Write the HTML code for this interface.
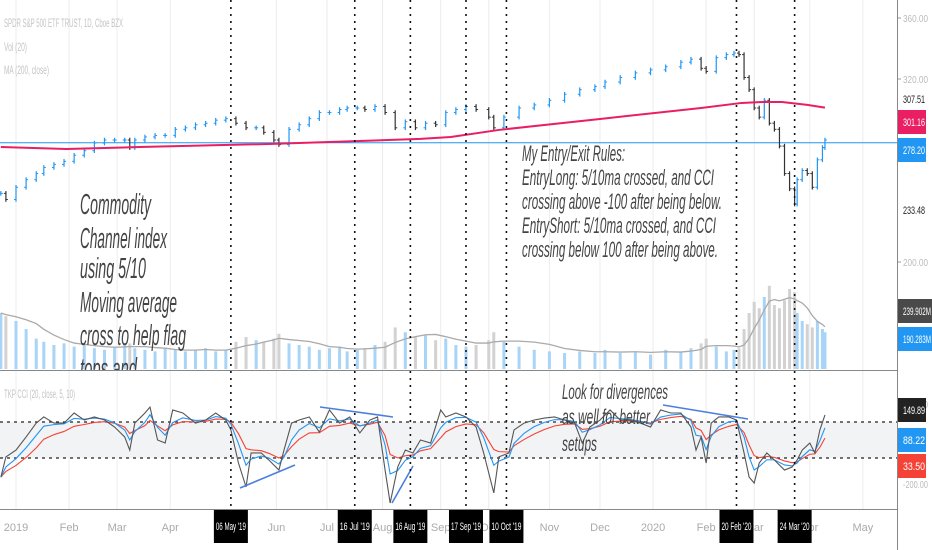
<!DOCTYPE html>
<html><head><meta charset="utf-8"><style>
html,body{margin:0;padding:0;background:#fff;}
svg{display:block;font-family:"Liberation Sans Narrow","Liberation Sans",sans-serif;}
</style></head><body>
<svg id="chart" width="932" height="550" viewBox="0 0 932 550" xmlns="http://www.w3.org/2000/svg">
<rect x="0" y="0" width="932" height="550" fill="#fff"/>
<g id="grid"></g>
<g id="vol"></g>
<g id="price"></g>
<g id="cci"></g>
<g id="marks"></g>
<g id="axes"></g>
</svg>
<script>
const NS="http://www.w3.org/2000/svg";
// ---- data ----
const priceDays=[-6,-4,0,4,8,11,15,19,23,27,31,35,39,43,45,47,51,55,59,63,67,71,75,79,83,87,91,95,98,102,104,108,112,116,120,124,128,131,135,138,142,146,150,154,158,162,166,170,174,178,182,187,189,193,199,205,211,217,223,229,233,239,245,251,257,263,267,271,273,277,281,284,286,288,290,292,294,296,298,300,302,304,306,308,309,311,313,315,317,319,320];
const closes=[245,241,249,254,258,262,264,266,270,273,278,280,280,280,275,280,282,283,283,287,288,290,291,293,294,291,288,288,285,280,277,287,290,294,298,298,300,301,301,300,302,298,288,292,288,291,290,298,300,302,300,295,288,295,301,303,306,310,313,315,318,321,324,326,328,331,333,327,325,334,336,337,336,321,313,301,295,306,291,287,276,258,248,238,254,260,258,249,267,275,280];
const volumes=[350,330,300,250,190,170,150,160,140,150,130,120,140,150,160,130,120,110,130,120,110,120,130,110,120,170,200,180,170,190,220,160,150,140,120,130,140,110,120,130,150,170,260,230,200,210,180,190,150,140,150,180,230,170,140,120,110,100,110,100,120,100,110,90,120,110,130,160,190,140,110,120,130,250,350,420,380,450,520,400,380,430,500,480,350,300,280,260,300,250,230];
const maDays=[-6,20,49,100,160,172,191,231,271,287,295,303,313,320];
const maValues=[275.4,274.1,275.4,277.4,280.7,282,286.6,293.8,301,304.3,304.9,304.9,303,301.2];
const cciDays=[-6,-4,0,4,8,11,15,19,23,27,31,35,39,43,45,47,51,53,56,59,62,66,71,75,79,83,85,88,91,93,97,100,104,106,109,112,116,120,124,128,132,136,140,143,146,148,151,154,157,160,164,168,170,174,178,182,185,189,191,195,197,201,205,209,213,217,221,224,227,231,235,239,243,247,251,255,259,263,267,269,271,273,275,278,282,285,288,290,292,294,297,300,304,307,309,311,314,316,318,320];
const cciValues=[-206,-94,-56,17,94,128,94,94,150,111,128,111,72,17,-56,94,150,183,0,-17,167,150,94,111,150,111,56,-128,-261,-72,-72,-111,-167,-56,94,111,128,44,167,94,128,39,111,128,-167,-350,-150,-56,-72,0,-17,167,128,150,128,72,-72,-294,-94,-72,56,94,111,122,128,111,94,-17,72,111,167,111,111,94,72,167,150,150,72,-56,17,-128,94,128,128,111,-72,-206,-239,-128,-72,-111,-167,-150,-111,-56,-17,-72,56,139];
const markerLabels=["06 May '19","16 Jul '19","16 Aug '19","17 Sep '19","10 Oct '19","20 Feb '20","24 Mar '20"];
const markerDays=[85,134,156,178,194,285,308];
const monthLabels=["2019","Feb","Mar","Apr","Jun","Jul","Aug","Sep","Oct","Nov","Dec","2020","Feb","Mar","Apr","May"];
const monthDays=[0,21,40,61,103,123,145,168,187,211,231,252,273,292,314,335];
const priceTicks=[360,320,200];
const cciTicks=[200,-200];
// ---- scales ----
const xT=t=>16+t*2.528;
const yP=p=>18+(360-p)*1.525;
const yV=v=>369-v*0.16;
const yC=v=>440-v*0.18;
function el(tag,attrs,parent){const e=document.createElementNS(NS,tag);for(const k in attrs)e.setAttribute(k,attrs[k]);parent.appendChild(e);return e;}
const G=id=>document.getElementById(id);
// grid
monthDays.forEach(d=>{const l=el('line',{x1:xT(d),x2:xT(d),y1:0,y2:509,stroke:'#ececec','stroke-width':1},G('grid'));

});
el('rect',{x:0,y:yC(100),width:897,height:yC(-100)-yC(100),fill:'#f2f3f5'},G('cci'));
// volume
volumes.forEach((v,i)=>{const up=i==0||closes[i]>=closes[i-1];
const r=el('rect',{x:xT(priceDays[i])-1.5,y:yV(v),width:3,height:369-yV(v),fill:up?'#a8d4f7':'#d2d2d2'},G('vol'));

});
let vmaPts=volumes.map((v,i)=>{const s=volumes.slice(Math.max(0,i-4),i+1);return xT(priceDays[i])+','+yV(s.reduce((a,b)=>a+b,0)/s.length);});
const vm=el('polyline',{points:vmaPts.join(' '),fill:'none',stroke:'#aaa','stroke-width':1.3},G('vol'));


// price
const hl=el('line',{x1:0,x2:897,y1:yP(278.2),y2:yP(278.2),stroke:'#2196f3','stroke-width':1},G('price'));


closes.forEach((c,i)=>{const prev=i?closes[i-1]:c;const up=c>=prev;const x=xT(priceDays[i]);
const hi=Math.max(c,prev)+1.5,lo=Math.min(c,prev)-1.5;const col=up?'#2196f3':'#333';
const g=el('g',{},G('price'));


el('line',{x1:x,x2:x,y1:yP(hi),y2:yP(lo),stroke:col,'stroke-width':1.2},g);
el('line',{x1:x-2,x2:x,y1:yP(prev),y2:yP(prev),stroke:col,'stroke-width':1},g);
el('line',{x1:x,x2:x+2,y1:yP(c),y2:yP(c),stroke:col,'stroke-width':1},g);});
const ma=el('polyline',{points:maDays.map((d,i)=>xT(d)+','+yP(maValues[i])).join(' '),fill:'none',stroke:'#e91e63','stroke-width':2},G('price'));


// cci
const cg=G('cci');
[100,-100].forEach(v=>{const l=el('line',{x1:0,x2:897,y1:yC(v),y2:yC(v),stroke:'#222','stroke-width':1.3,'stroke-dasharray':'3,4'},cg);

});
function ema(a,al){let o=[],p=a[0];a.forEach(v=>{p=p+al*(v-p);o.push(p);});return o;}
const cBlue=ema(cciValues,0.5),cRed=ema(cciValues,0.28);
[[cRed,'#f44336','cci-slow-ma'],[cBlue,'#2196f3','cci-fast-ma'],[cciValues,'#555','cci-line']].forEach(([arr,col,nm])=>{
const p=el('polyline',{points:arr.map((v,i)=>xT(cciDays[i])+','+yC(v)).join(' '),fill:'none',stroke:col,'stroke-width':1.1},cg);

});
[[240,488,295,465],[320,407,393,417],[392,503,413,466],[663,405,748,419]].forEach(s=>{
const l=el('line',{x1:s[0],y1:s[1],x2:s[2],y2:s[3],stroke:'#4a7fe0','stroke-width':1.6},cg);

});
// markers
markerDays.forEach((d,i)=>{const x=xT(d);
const l=el('line',{x1:x,x2:x,y1:0,y2:509,stroke:'#111','stroke-width':1.6,'stroke-dasharray':'2,5'},G('marks'));

});
// axes
const ax=G('axes');
el('line',{x1:0,x2:897,y1:370.5,y2:370.5,stroke:'#888','stroke-width':1},ax);
el('line',{x1:0,x2:897,y1:509.5,y2:509.5,stroke:'#888','stroke-width':1},ax);
el('line',{x1:897.5,x2:897.5,y1:0,y2:550,stroke:'#888','stroke-width':1},ax);
el('rect',{x:898,y:0,width:34,height:550,fill:'#fff'},ax);
function txt(s,x,y,o,p){const t=el('text',Object.assign({x:x,y:y},o),p||ax);t.textContent=s;return t;}
priceTicks.forEach(p=>{el('line',{x1:898,x2:901,y1:yP(p),y2:yP(p),stroke:'#999'},ax);
const t=txt(p.toFixed(2),903,yP(p)+4,{'font-size':10.5,fill:'#bbb',textLength:25,lengthAdjust:'spacingAndGlyphs'});

});
cciTicks.forEach(v=>{const t=txt(v.toFixed(2),903,yC(v)+(v<0?12:4),{'font-size':10.5,fill:'#bbb',textLength:25,lengthAdjust:'spacingAndGlyphs'});

});
[['307.51',99,null,'#222'],['233.48',210,null,'#222'],['301.16',122,'#e91e63','#fff'],['278.20',150,'#2196f3','#fff'],['239.902M',311,'#4a4a4a','#fff'],['190.283M',339,'#2196f3','#fff'],['149.89',410,'#222','#fff'],['88.22',440,'#2196f3','#fff'],['33.50',466,'#f44336','#fff']].forEach(([s,y,bg,fg])=>{
if(bg)el('rect',{x:898,y:y-12,width:(s.length>6?34:28),height:24,fill:bg},ax);
const t=txt(s,903,y+4,{'font-size':11,fill:fg,textLength:s.length>6?28:22,lengthAdjust:'spacingAndGlyphs'});

});
monthLabels.forEach((m,i)=>{const t=txt(m,xT(monthDays[i]),531,{'font-size':11,fill:'#aaa','text-anchor':'middle'});

});
markerDays.forEach((d,i)=>{const x=xT(d);
const r=el('rect',{x:x-17,y:510,width:34,height:33,fill:'#000'},ax);


txt(markerLabels[i],x,530,{'font-size':11,fill:'#fff','text-anchor':'middle',textLength:30,lengthAdjust:'spacingAndGlyphs'});});
// legends
[['SPDR S&P 500 ETF TRUST, 1D, Cboe BZX',27,119],['Vol (20)',51,23],['MA (200, close)',74,45],['TKP CCI (20, close, 5, 10)',398,71]].forEach(([s,y,w])=>{
const t=txt(s,4,y,{'font-size':12,fill:'#c4c4c4',textLength:w,lengthAdjust:'spacingAndGlyphs'});

});
// notes
const notes=el('g',{'font-style':'italic',fill:'#444'},ax);


const clip=el('clipPath',{id:'pc'},ax);el('rect',{x:0,y:0,width:897,height:370},clip);
const left=el('g',{'clip-path':'url(#pc)'},notes);
[['Commodity',214,71],['Channel index',248,87],['using 5/10',278,66],['Moving average',312,97],['cross to help flag',345,106],['tops and',378,57]].forEach(([s,y,w])=>{
txt(s,80,y,{'font-size':29,textLength:w,lengthAdjust:'spacingAndGlyphs'},left);});
[['My Entry/Exit Rules:',161,103],['EntryLong: 5/10ma crossed, and CCI',185,192],['crossing above -100 after being below.',209,200],['EntryShort: 5/10ma crossed, and CCI',233,194],['crossing below 100 after being above.',257,196]].forEach(([s,y,w])=>{
txt(s,522,y,{'font-size':22,textLength:w,lengthAdjust:'spacingAndGlyphs'},notes);});
[['Look for divergences',399,106],['as well for better',424,88],['setups',451,35]].forEach(([s,y,w])=>{
txt(s,562,y,{'font-size':21,textLength:w,lengthAdjust:'spacingAndGlyphs'},notes);});
</script>
</body></html>
